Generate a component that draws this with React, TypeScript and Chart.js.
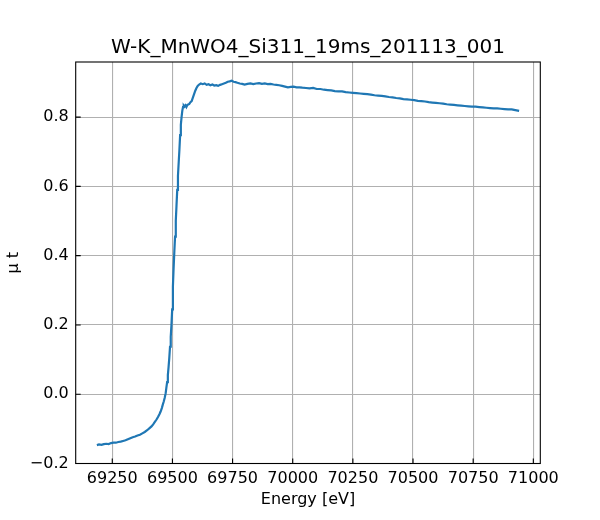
import { useEffect, useRef } from 'react';
import { Chart, registerables } from 'chart.js';

Chart.register(...registerables);

const title = 'W-K_MnWO4_Si311_19ms_201113_001';

const energy = [
  69186, 69195, 69205, 69215, 69225, 69235, 69245, 69255, 69265, 69275, 69285, 69295, 69305, 69315,
  69325, 69335, 69345, 69355, 69365, 69375, 69385, 69395, 69405, 69413, 69420, 69427, 69434, 69440,
  69446, 69451, 69456, 69460, 69464, 69468, 69472, 69475, 69478, 69481, 69484, 69487, 69490, 69493,
  69496, 69499, 69502, 69505, 69508, 69511, 69514, 69517, 69520, 69523, 69526, 69529, 69532, 69535,
  69538, 69541, 69544, 69547, 69550, 69554, 69558, 69562, 69566, 69570, 69575, 69580, 69585, 69590,
  69595, 69600, 69605, 69611, 69618, 69626, 69634, 69642, 69650, 69658, 69666, 69674, 69682, 69690,
  69698, 69706, 69714, 69722, 69730, 69738, 69746, 69754, 69762, 69770, 69780, 69790, 69800, 69812,
  69824, 69836, 69848, 69860, 69872, 69884, 69896, 69908, 69920, 69932, 69944, 69956, 69968, 69980,
  69992, 70004, 70016, 70028, 70040, 70055, 70070, 70085, 70100, 70115, 70130, 70145, 70160, 70175,
  70190, 70205, 70220, 70235, 70250, 70265, 70280, 70295, 70310, 70325, 70340, 70355, 70370, 70385,
  70400, 70415, 70430, 70445, 70460, 70475, 70490, 70505, 70520, 70535, 70550, 70565, 70580, 70595,
  70610, 70625, 70640, 70655, 70670, 70685, 70700, 70715, 70730, 70745, 70760, 70775, 70790, 70805,
  70820, 70835, 70850, 70865, 70880, 70895, 70910, 70925, 70941,
];

const mu = [
  -0.147, -0.145, -0.146, -0.144, -0.143, -0.144, -0.141, -0.14, -0.14, -0.138, -0.137, -0.135, -0.133, -0.13,
  -0.127, -0.124, -0.122, -0.119, -0.117, -0.113, -0.109, -0.104, -0.098, -0.093, -0.087, -0.08, -0.073, -0.066,
  -0.058, -0.05, -0.04, -0.03, -0.021, -0.01, 0.003, 0.02, 0.035, 0.055, 0.078, 0.105, 0.137, 0.165,
  0.2, 0.245, 0.31, 0.365, 0.412, 0.455, 0.5, 0.545, 0.59, 0.63, 0.668, 0.705, 0.748, 0.778,
  0.8, 0.818, 0.829, 0.833, 0.83, 0.834, 0.829, 0.835, 0.836, 0.838, 0.843, 0.846, 0.856, 0.866,
  0.876, 0.884, 0.89, 0.894, 0.897, 0.895, 0.897, 0.893, 0.895, 0.892, 0.894, 0.891, 0.892, 0.89,
  0.893, 0.895, 0.897, 0.899, 0.902, 0.903, 0.905, 0.902, 0.901, 0.899, 0.897, 0.896, 0.894, 0.896,
  0.897, 0.895, 0.897, 0.898, 0.896, 0.897, 0.895, 0.896, 0.894, 0.893, 0.892, 0.89, 0.888, 0.886,
  0.887, 0.888, 0.886, 0.886, 0.885, 0.884, 0.883, 0.884, 0.881, 0.881, 0.879, 0.878, 0.877, 0.875,
  0.874, 0.874, 0.872, 0.871, 0.87, 0.869, 0.868, 0.867, 0.866, 0.865, 0.863, 0.862, 0.861, 0.86,
  0.858, 0.857, 0.855, 0.854, 0.852, 0.851, 0.85, 0.849, 0.847, 0.846, 0.845, 0.843, 0.842, 0.841,
  0.84, 0.839, 0.837, 0.836, 0.835, 0.834, 0.833, 0.832, 0.831, 0.83, 0.83, 0.829, 0.828, 0.827,
  0.826, 0.825, 0.825, 0.824, 0.823, 0.822, 0.822, 0.82, 0.818,
];

const xTicks = [69250, 69500, 69750, 70000, 70250, 70500, 70750, 71000];
const yTicks = [-0.2, 0.0, 0.2, 0.4, 0.6, 0.8];

const font = 'DejaVu Sans';

// matplotlib-like frame: full box plus inward ticks on left/bottom
const framePlugin = {
  id: 'frame',
  afterDraw(chart: Chart) {
    const { ctx, chartArea } = chart;
    const { left, right, top, bottom } = chartArea;
    ctx.save();
    ctx.strokeStyle = '#000';
    ctx.lineWidth = 1.1;
    const xs = chart.scales.x;
    const ys = chart.scales.y;
    ctx.beginPath();
    xs.ticks.forEach((t) => {
      const px = xs.getPixelForValue(t.value);
      ctx.moveTo(px, bottom);
      ctx.lineTo(px, bottom - 5);
    });
    ys.ticks.forEach((t) => {
      const py = ys.getPixelForValue(t.value);
      ctx.moveTo(left, py);
      ctx.lineTo(left + 5, py);
    });
    ctx.stroke();
    ctx.strokeRect(left, top, right - left, bottom - top);
    ctx.restore();
  },
};

export default function App() {
  const canvasRef = useRef<HTMLCanvasElement | null>(null);
  const chartRef = useRef<Chart | null>(null);

  useEffect(() => {
    const ctx = canvasRef.current?.getContext('2d');
    if (!ctx) return;
    if (chartRef.current) chartRef.current.destroy();

    chartRef.current = new Chart(ctx, {
      type: 'line',
      data: {
        datasets: [
          {
            data: energy.map((e, i) => ({ x: e, y: mu[i] })),
            borderColor: '#1f77b4',
            borderWidth: 2.2,
            pointRadius: 0,
            tension: 0,
          },
        ],
      },
      options: {
        responsive: false,
        animation: false,
        layout: { padding: { left: 0, right: 59.7, top: 0, bottom: 0 } },
        plugins: {
          legend: { display: false },
          tooltip: { enabled: false },
          title: {
            display: true,
            text: title,
            fullSize: false,
            color: '#000',
            font: { family: font, size: 20, weight: 'normal' },
            padding: { top: 35.5, bottom: 2.5 },
          },
        },
        scales: {
          x: {
            type: 'linear',
            min: 69098,
            max: 71029,
            afterBuildTicks: (s) => {
              s.ticks = xTicks.map((v) => ({ value: v }));
            },
            afterFit: (s) => {
              s.height = 56.5;
            },
            grid: { color: '#b0b0b0', lineWidth: 1.1, drawTicks: false },
            border: { display: false },
            ticks: {
              color: '#000',
              padding: 6,
              maxRotation: 0,
              font: { family: font, size: 16 },
              callback: (v) => String(v),
            },
            title: {
              display: true,
              text: 'Energy [eV]',
              color: '#000',
              font: { family: font, size: 16 },
              padding: { top: 0, bottom: 11 },
            },
          },
          y: {
            type: 'linear',
            min: -0.2,
            max: 0.959,
            afterBuildTicks: (s) => {
              s.ticks = yTicks.map((v) => ({ value: v }));
            },
            afterFit: (s) => {
              s.width = 75.7;
            },
            grid: { color: '#b0b0b0', lineWidth: 1.1, drawTicks: false },
            border: { display: false },
            ticks: {
              color: '#000',
              padding: 7,
              font: { family: font, size: 16 },
              callback: (v) => Number(v).toFixed(1).replace('-', '\u2212'),
            },
            title: {
              display: true,
              text: '\u03bc t',
              color: '#000',
              font: { family: font, size: 16 },
              padding: { top: 4, bottom: 0 },
            },
          },
        },
      },
      plugins: [framePlugin],
    });

    return () => {
      if (chartRef.current) chartRef.current.destroy();
      chartRef.current = null;
    };
  }, []);

  return (
    <div style={{ position: 'absolute', left: 0, top: 0, width: 600, height: 520, background: '#fff' }}>
      <canvas ref={canvasRef} width={600} height={520} />
    </div>
  );
}
